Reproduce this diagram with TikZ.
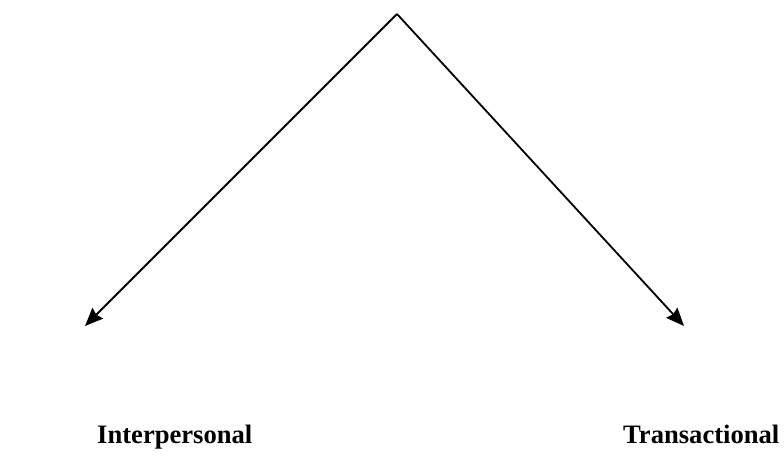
\documentclass[tikz,border=0pt]{standalone}
\usepackage{fontspec}
\setmainfont{Liberation Serif}
\usetikzlibrary{arrows.meta}
\tikzset{
  conn/.style={line width=1.8pt,-{Stealth[length=18pt,width=15pt,inset=2pt]}},
  lbl/.style={inner sep=0pt,anchor=base west,font=\fontsize{26.6}{30}\selectfont\bfseries}
}
\begin{document}
\begin{tikzpicture}[x=1pt,y=-1pt]
\useasboundingbox (0,0) rectangle (784,458);
\coordinate (apex) at (397,14);
\coordinate (lend) at (85,326);
\coordinate (rend) at (684,326);
\draw[conn] (apex) -- (lend);
\draw[conn] (apex) -- (rend);
\node[lbl] (inter) at (97,443) {Interpersonal};
\node[lbl] (trans) at (623,443) {Transactional};
\end{tikzpicture}
\end{document}
